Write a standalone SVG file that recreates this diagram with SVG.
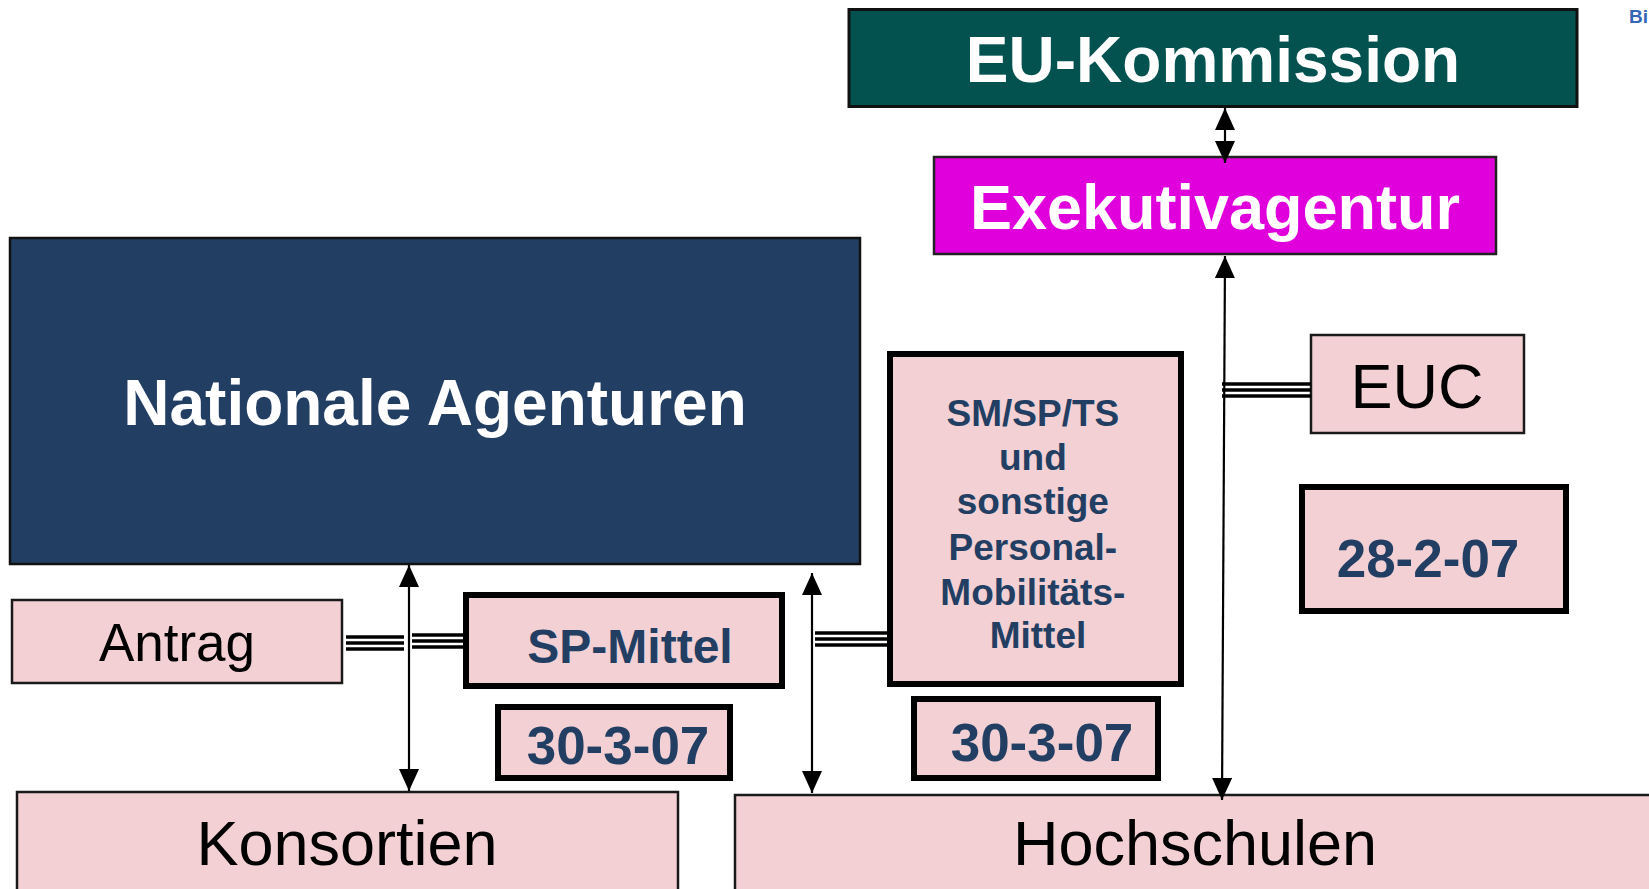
<svg xmlns="http://www.w3.org/2000/svg" width="1649" height="889" viewBox="0 0 1649 889">
<defs>
<marker id="ah" markerUnits="userSpaceOnUse" markerWidth="24" markerHeight="22" refX="22" refY="10" orient="auto-start-reverse">
<path d="M0,0 L22,10 L0,20 z" fill="#000"/>
</marker>
<style>
.pink{fill:#F2D0D3;stroke:#1a1a1a;stroke-width:2.5}
.thick{fill:#F2D0D3;stroke:#000;stroke-width:6}
.lbl{font-family:"Liberation Sans",Arial,sans-serif;fill:#000;text-anchor:middle}
.nav{font-family:"Liberation Sans",Arial,sans-serif;font-weight:bold;fill:#223F63;text-anchor:middle}
.wht{font-family:"Liberation Sans",Arial,sans-serif;font-weight:bold;fill:#fff;text-anchor:middle}
.arr{stroke:#000;stroke-width:2.2;fill:none;marker-start:url(#ah);marker-end:url(#ah)}
.tri{stroke:#000;stroke-width:3.5}
</style>
</defs>
<rect width="1649" height="889" fill="#fff"/>
<text x="1629" y="23" font-family="Liberation Sans,Arial,sans-serif" font-weight="bold" font-size="19" fill="#3465B7">Bi</text>

<g id="eu-kommission">
<rect x="849" y="9.5" width="728" height="97" fill="#03524F" stroke="#111" stroke-width="3"/>
<text class="wht" x="1213" y="82" font-size="64">EU-Kommission</text>
</g>
<g id="exekutivagentur">
<rect x="934" y="157" width="562" height="97" fill="#E000DC" stroke="#222" stroke-width="2.5"/>
<text class="wht" x="1215" y="229" font-size="63">Exekutivagentur</text>
</g>
<g id="nationale-agenturen">
<rect x="10" y="238" width="850" height="326" fill="#223F63" stroke="#111" stroke-width="2.5"/>
<text class="wht" x="435" y="425" font-size="64">Nationale Agenturen</text>
</g>
<g id="antrag">
<rect class="pink" x="12" y="600" width="330" height="83"/>
<text class="lbl" x="177" y="661" font-size="53">Antrag</text>
</g>
<g id="sp-mittel">
<rect class="thick" x="466" y="595" width="316" height="91"/>
<text class="nav" x="630" y="663" font-size="48">SP-Mittel</text>
</g>
<g id="date-sp">
<rect class="thick" x="498" y="707" width="232" height="71"/>
<text class="nav" x="618" y="764" font-size="53">30-3-07</text>
</g>
<g id="sm-sp-ts">
<rect class="thick" x="890" y="354" width="291" height="330"/>
<text class="nav" font-size="37">
<tspan x="1038" y="426">SM/SP/TS</tspan>
<tspan x="1038" y="470">und</tspan>
<tspan x="1038" y="514">sonstige</tspan>
<tspan x="1038" y="560">Personal-</tspan>
<tspan x="1038" y="605">Mobilitäts-</tspan>
<tspan x="1038" y="648">Mittel</tspan>
</text>
</g>
<g id="date-sm">
<rect class="thick" x="914" y="699" width="244" height="79"/>
<text class="nav" x="1042" y="761" font-size="53">30-3-07</text>
</g>
<g id="euc">
<rect class="pink" x="1311" y="335" width="213" height="98"/>
<text class="lbl" x="1417" y="408" font-size="63">EUC</text>
</g>
<g id="date-euc">
<rect class="thick" x="1302" y="487" width="264" height="124"/>
<text class="nav" x="1428" y="577" font-size="53">28-2-07</text>
</g>
<g id="konsortien">
<rect class="pink" x="17" y="792" width="661" height="110"/>
<text class="lbl" x="347" y="865" font-size="63">Konsortien</text>
</g>
<g id="hochschulen">
<rect class="pink" x="735" y="795" width="930" height="110"/>
<text class="lbl" x="1195" y="865" font-size="63">Hochschulen</text>
</g>

<g id="connectors">
<line class="arr" x1="1225" y1="108" x2="1225" y2="163"/>
<line class="arr" x1="409" y1="565" x2="409" y2="791"/>
<line class="arr" x1="812" y1="573" x2="812" y2="793"/>
<line class="arr" x1="1225" y1="256" x2="1222" y2="800"/>
<g class="tri">
<line x1="346" y1="637" x2="404" y2="637"/><line x1="346" y1="643" x2="404" y2="643"/><line x1="346" y1="649" x2="404" y2="649"/>
<line x1="412" y1="635" x2="464" y2="635"/><line x1="412" y1="641" x2="464" y2="641"/><line x1="412" y1="647" x2="464" y2="647"/>
<line x1="815" y1="633" x2="888" y2="633"/><line x1="815" y1="639" x2="888" y2="639"/><line x1="815" y1="645" x2="888" y2="645"/>
<line x1="1222" y1="384" x2="1311" y2="384"/><line x1="1222" y1="390" x2="1311" y2="390"/><line x1="1222" y1="396" x2="1311" y2="396"/>
</g>
</g>
</svg>
